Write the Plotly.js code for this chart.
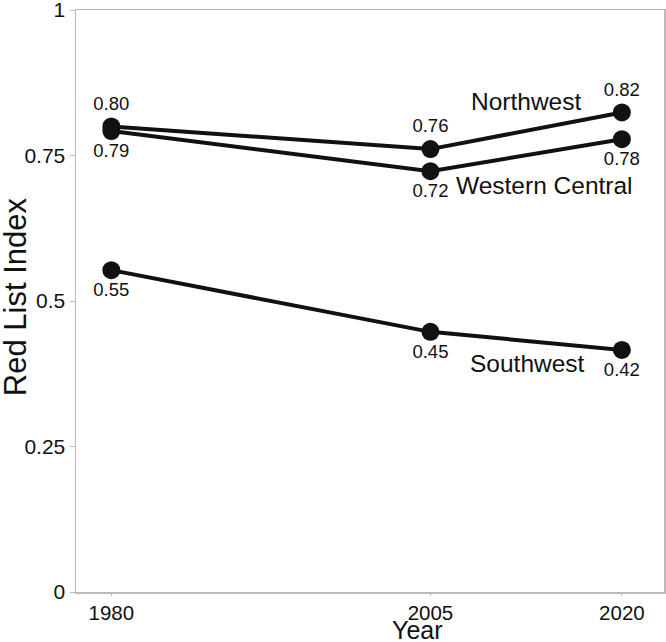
<!DOCTYPE html>
<html><head><meta charset="utf-8">
<script src="https://cdn.plot.ly/plotly-3.0.1.min.js"></script>
<style>html,body{margin:0;padding:0;background:#fff}#chart{width:666px;height:642px}</style>
</head><body><div id="chart"></div>
<script>
const years = [1980, 2005, 2020];
const northwest = [0.800, 0.761, 0.824];
const westernCentral = [0.792, 0.723, 0.778];
const southwest = [0.553, 0.447, 0.416];
const northwestLabels = ["0.80", "0.76", "0.82"];
const westernCentralLabels = ["0.79", "0.72", "0.78"];
const southwestLabels = ["0.55", "0.45", "0.42"];
const seriesNames = ["Northwest", "Western Central", "Southwest"];
const yTicks = [0, 0.25, 0.5, 0.75, 1];
const yTickLabels = ["0", "0.25", "0.5", "0.75", "1"];
const xTitle = "Year";
const yTitle = "Red List Index";

const FONT = "Liberation Sans, Arial, sans-serif";
const C = "#111";
function tr(y, labels, pos, name) {
  return {x: years, y: y, mode: "lines+markers+text", name: name,
    line: {color: C, width: 4}, marker: {color: C, size: 18},
    text: labels, textposition: pos, textfont: {family: FONT, size: 18.5, color: C},
    cliponaxis: false, hoverinfo: "skip"};
}
const data = [
  tr(northwest, northwestLabels, "top center", seriesNames[0]),
  tr(westernCentral, westernCentralLabels, "bottom center", seriesNames[1]),
  tr(southwest, southwestLabels, "bottom center", seriesNames[2])
];
const ax = {showgrid: false, zeroline: false, showline: true, linecolor: "#bbb", linewidth: 1.5,
  mirror: true, ticks: "outside", ticklen: 5, tickcolor: "#bbb", automargin: false,
  ticklabeloverflow: "allow", tickfont: {family: FONT, size: 21, color: C}};
const nameAnn = [
  {x: 2012.5, y: 0.8436, text: seriesNames[0]},
  {x: 2013.9, y: 0.699, text: seriesNames[1]},
  {x: 2012.6, y: 0.392, text: seriesNames[2]}
].map(a => Object.assign(a, {xref: "x", yref: "y", showarrow: false,
    font: {family: FONT, size: 24.5, color: C}}));
const titleAnn = [
  {xref: "paper", yref: "paper", x: 0.58, y: -0.093, xanchor: "center", yanchor: "bottom",
   text: xTitle, showarrow: false, font: {family: FONT, size: 25, color: C}},
  {xref: "paper", yref: "paper", x: -0.104, y: 0.508, xanchor: "center", yanchor: "middle",
   textangle: -90, text: yTitle, showarrow: false, font: {family: FONT, size: 31, color: C}}
];
const layout = {
  width: 666, height: 642, showlegend: false,
  margin: {l: 76, r: 2, t: 10, b: 50},
  paper_bgcolor: "#fff", plot_bgcolor: "#fff",
  xaxis: Object.assign({}, ax, {range: [1977.23, 2023.3], tickvals: years, ticktext: years.map(String),
    ticklen: 2, tickfont: {family: FONT, size: 20.5, color: C}}),
  yaxis: Object.assign({}, ax, {range: [0, 1], tickvals: yTicks, ticktext: yTickLabels}),
  annotations: nameAnn.concat(titleAnn)
};
Plotly.newPlot("chart", data, layout, {staticPlot: true});
</script></body></html>
